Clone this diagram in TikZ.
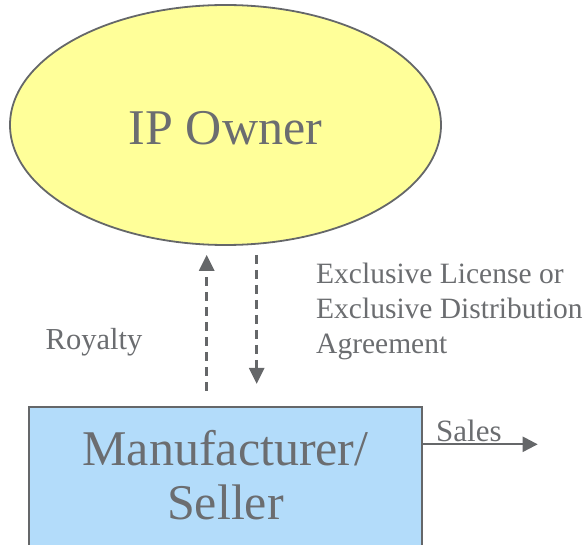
\documentclass[tikz,border=0pt]{standalone}
\usepackage{fontspec}
\setmainfont{Liberation Serif}
\usetikzlibrary{shapes.geometric,arrows.meta}
\definecolor{txtgray}{HTML}{6B6D70}
\definecolor{edgegray}{HTML}{656769}
\definecolor{ownerfill}{HTML}{FFFF99}
\definecolor{sellerfill}{HTML}{B3DCFA}

\begin{document}
\begin{tikzpicture}[x=1pt,y=-1pt,
  party/.style={draw=edgegray,line width=1.8pt,text=txtgray,align=center,
    font=\fontsize{50}{54}\selectfont},
  flow/.style={draw=edgegray,line width=2.8pt,dash pattern=on 9pt off 6pt,
    -{Triangle[width=15pt,length=16pt]}},
  lbl/.style={text=txtgray,inner sep=0pt,align=left,font=\fontsize{29.5}{35}\selectfont}]
      \clip (0,0) rectangle (584,545);
      % the two parties
      \node[party,ellipse,fill=ownerfill,minimum width=431pt,minimum height=240pt,text height=40pt] (owner) at (225.5,125) {IP Owner};
      \node[party,rectangle,fill=sellerfill,minimum width=393pt,inner ysep=24pt,text depth=100pt,anchor=north] (seller) at (225.5,405.8) {Manufacturer/\\Seller};
      % flows between them
      \draw[flow,shorten <=15pt,shorten >=9pt] ([xshift=-18.8pt]seller.north) -- ([xshift=-18.8pt]seller.north |- owner.south);
      \draw[flow,shorten <=9pt,shorten >=21.8pt] ([xshift=31.2pt]seller.north |- owner.south) -- ([xshift=31.2pt]seller.north);
      \coordinate (salesend) at (537.7,444.3);
      \draw[draw=edgegray,line width=2.3pt,-{Triangle[width=15pt,length=15pt]}] (seller.east |- salesend) -- (salesend);
      % labels
      \node[lbl,anchor=base west,font=\fontsize{30.5}{35}\selectfont] (royalty) at (45.5,350) {Royalty};
      \node[lbl,anchor=north west] (license) at (316,263) {Exclusive License or\\Exclusive Distribution\\Agreement};
      \node[lbl,anchor=base west,font=\fontsize{31}{35}\selectfont] (sales) at (436,441.7) {Sales};
\end{tikzpicture}
\end{document}
